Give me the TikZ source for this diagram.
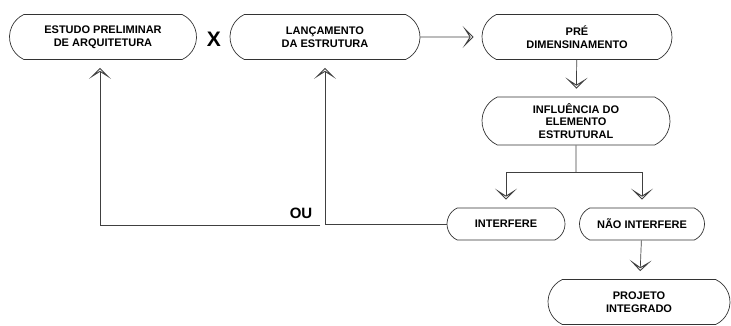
\documentclass[tikz,border=0pt]{standalone}
\usepackage{fontspec}
\setmainfont{Liberation Sans}
\usetikzlibrary{arrows.meta}
\usetikzlibrary{shapes.misc}
\usetikzlibrary{positioning}

\begin{document}
\begin{tikzpicture}[x=1pt,y=-1pt,
    caixa/.style={draw=black!80,line width=0.7pt,rounded rectangle,rounded rectangle arc length=130,
        inner sep=0pt,align=center,font=\fontsize{11}{12.5}\selectfont\bfseries},
    seta/.style={-{Stealth[open,length=11pt,width=22pt,inset=7pt,line width=0.9pt]},shorten >=8pt},
    linha/.style={draw=black!75,line width=0.7pt}]
    \useasboundingbox (0,0) rectangle (731,325);
    % caixas
    \node[caixa,minimum width=187pt,minimum height=45pt] (estudo) at (103,37) {ESTUDO PRELIMINAR\\DE ARQUITETURA};
    \node[font=\fontsize{21}{21}\selectfont\bfseries] (xis) at (214,39) {X};
    \node[caixa,minimum width=190pt,minimum height=45pt] (lanc) at (325,37) {LANÇAMENTO\\DA ESTRUTURA};
    \node[caixa,minimum width=190pt,minimum height=45pt] (pre) at (577,37) {PRÉ\\DIMENSINAMENTO};
    \node[caixa,minimum width=188pt,minimum height=48pt] (infl) at (576,121) {INFLUÊNCIA DO\\ELEMENTO\\ESTRUTURAL};
    \node[caixa,minimum width=118pt,minimum height=32pt] (interf) at (506,224) {INTERFERE};
    \node[caixa,minimum width=125pt,minimum height=32pt] (nao) at (642,224) {NÃO INTERFERE};
    \node[caixa,minimum width=182pt,minimum height=45pt] (proj) at (639,302) {PROJETO\\INTEGRADO};
    \node[font=\fontsize{15}{15}\selectfont\bfseries] (ou) at (301,213) {OU};
    % ligacoes
    \coordinate (ramo) at (576,172);
    \coordinate (canto) at (320,225);
    \draw[linha,seta] (lanc) -- (pre);
    \draw[linha,seta] (pre) -- (infl);
    \draw[linha] (infl) -- (ramo);
    \draw[linha,seta] (ramo) -| (interf);
    \draw[linha,seta] (ramo) -| (nao);
    \draw[linha,seta] (nao) -- (proj);
    \draw[linha,seta] (interf.west) -| (lanc.south);
    \draw[linha,seta] (canto) -| ([xshift=-3pt]estudo.south);
\end{tikzpicture}
\end{document}
